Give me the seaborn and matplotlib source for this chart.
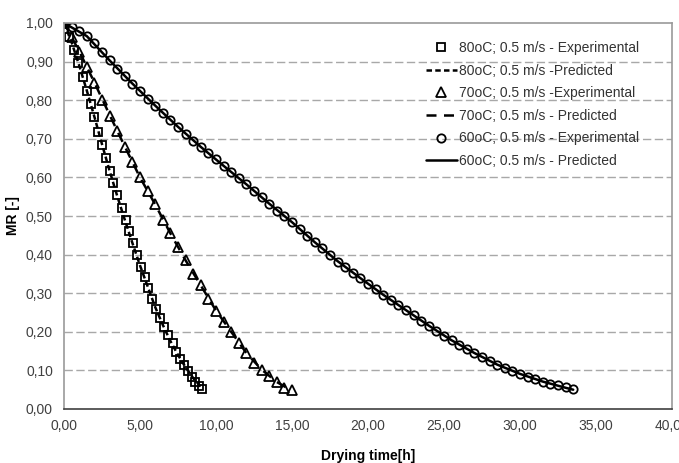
import matplotlib

matplotlib.use("Agg")

import matplotlib.pyplot as plt
import pandas as pd
import seaborn as sns

# 80 oC; 0.5 m/s
t80_exp = [0.0, 0.35, 0.65, 0.95, 1.25, 1.5, 1.75, 2.0, 2.25, 2.5, 2.75, 3.0, 3.25, 3.5,
           3.8, 4.05, 4.3, 4.55, 4.8, 5.05, 5.3, 5.55, 5.8, 6.05, 6.3, 6.55, 6.85, 7.15,
           7.4, 7.65, 7.9, 8.15, 8.4, 8.65, 8.9, 9.1]
mr80_exp = [1.0, 0.965, 0.93, 0.896, 0.861, 0.824, 0.79, 0.757, 0.718, 0.684, 0.65, 0.617,
            0.585, 0.554, 0.521, 0.49, 0.46, 0.43, 0.40, 0.368, 0.342, 0.313, 0.285, 0.259,
            0.236, 0.212, 0.192, 0.171, 0.148, 0.13, 0.114, 0.098, 0.083, 0.07, 0.06, 0.052]
t80_pred = [0.0, 0.5, 1.0, 1.5, 2.0, 2.5, 3.0, 3.5, 4.0, 4.5, 5.0, 5.5, 6.0, 6.5, 7.0, 7.5,
            8.0, 8.5, 9.0]
mr80_pred = [1.0, 0.95, 0.89, 0.825, 0.757, 0.686, 0.617, 0.552, 0.49, 0.43, 0.372, 0.318,
             0.264, 0.218, 0.176, 0.14, 0.108, 0.08, 0.058]

# 70 oC; 0.5 m/s
t70_exp = [0.0, 0.5, 1.0, 1.5, 2.0, 2.5, 3.0, 3.5, 4.0, 4.5, 5.0, 5.5, 6.0, 6.5, 7.0, 7.5,
           8.0, 8.5, 9.0, 9.5, 10.0, 10.5, 11.0, 11.5, 12.0, 12.5, 13.0, 13.5, 14.0, 14.5, 15.0]
mr70_exp = [1.0, 0.965, 0.925, 0.886, 0.845, 0.80, 0.76, 0.72, 0.68, 0.64, 0.60, 0.565, 0.53,
            0.49, 0.455, 0.42, 0.385, 0.35, 0.32, 0.285, 0.255, 0.225, 0.20, 0.17, 0.145,
            0.12, 0.10, 0.085, 0.07, 0.055, 0.048]
t70_pred = [0.0, 1.0, 2.0, 3.0, 4.0, 5.0, 6.0, 7.0, 8.0, 9.0, 10.0, 11.0, 12.0, 13.0, 14.0, 15.0]
mr70_pred = [1.0, 0.927, 0.846, 0.762, 0.68, 0.60, 0.53, 0.455, 0.385, 0.32, 0.255, 0.20,
             0.145, 0.102, 0.07, 0.047]

# 60 oC; 0.5 m/s
t60_exp = [0.0, 0.5, 1.0, 1.5, 2.0, 2.5, 3.0, 3.5, 4.0, 4.5, 5.0, 5.5, 6.0, 6.5, 7.0, 7.5,
           8.0, 8.5, 9.0, 9.5, 10.0, 10.5, 11.0, 11.5, 12.0, 12.5, 13.0, 13.5, 14.0, 14.5,
           15.0, 15.5, 16.0, 16.5, 17.0, 17.5, 18.0, 18.5, 19.0, 19.5, 20.0, 20.5, 21.0,
           21.5, 22.0, 22.5, 23.0, 23.5, 24.0, 24.5, 25.0, 25.5, 26.0, 26.5, 27.0, 27.5,
           28.0, 28.5, 29.0, 29.5, 30.0, 30.5, 31.0, 31.5, 32.0, 32.5, 33.0, 33.5]
mr60_exp = [1.0, 0.99, 0.98, 0.966, 0.948, 0.925, 0.903, 0.882, 0.862, 0.843, 0.823, 0.804,
            0.786, 0.768, 0.749, 0.731, 0.713, 0.695, 0.679, 0.663, 0.647, 0.63, 0.614,
            0.599, 0.582, 0.565, 0.549, 0.53, 0.514, 0.5, 0.484, 0.467, 0.448, 0.432, 0.416,
            0.399, 0.382, 0.368, 0.353, 0.34, 0.324, 0.31, 0.295, 0.283, 0.27, 0.257, 0.243,
            0.229, 0.215, 0.201, 0.189, 0.178, 0.165, 0.155, 0.145, 0.135, 0.124, 0.115,
            0.107, 0.099, 0.091, 0.084, 0.078, 0.071, 0.066, 0.061, 0.056, 0.052]
t60_pred = [0.0, 1.5, 3.0, 4.5, 6.0, 7.5, 9.0, 10.5, 12.0, 13.5, 15.0, 16.5, 18.0, 19.5, 21.0,
            22.5, 24.0, 25.5, 27.0, 28.5, 30.0, 31.5, 33.0, 33.5]
mr60_pred = [1.0, 0.966, 0.903, 0.843, 0.786, 0.731, 0.679, 0.63, 0.582, 0.532, 0.484, 0.432,
             0.383, 0.339, 0.296, 0.256, 0.216, 0.178, 0.145, 0.115, 0.091, 0.071, 0.055, 0.05]

x_ticks = [0, 5, 10, 15, 20, 25, 30, 35, 40]
y_ticks = [0.0, 0.1, 0.2, 0.3, 0.4, 0.5, 0.6, 0.7, 0.8, 0.9, 1.0]

sns.set_theme(style="white")
plt.rcParams["font.family"] = ["Liberation Sans", "DejaVu Sans"]

fig = plt.figure(figsize=(6.79, 4.63), dpi=100)
ax = fig.add_axes([64 / 679, 54 / 463, 608 / 679, 386 / 463])

for y in y_ticks[1:-1]:
    ax.axhline(y, color="#a8a8a8", lw=1.0, dashes=(6, 2.5), zorder=0)


def exp_series(t, mr, marker, label, ms):
    df = pd.DataFrame({"t": t, "mr": mr})
    sns.lineplot(data=df, x="t", y="mr", estimator=None, sort=False, ax=ax,
                 marker=marker, linestyle="none", markersize=ms, markerfacecolor="none",
                 markeredgecolor="black", markeredgewidth=1.3, color="black", label=label)


def pred_series(t, mr, dashes, label):
    df = pd.DataFrame({"t": t, "mr": mr})
    line_kw = {"dashes": dashes} if dashes else {"linestyle": "-"}
    sns.lineplot(data=df, x="t", y="mr", estimator=None, sort=False, ax=ax,
                 color="black", lw=1.8, label=label, **line_kw)


exp_series(t80_exp, mr80_exp, "s", "80oC; 0.5 m/s - Experimental", 6)
pred_series(t80_pred, mr80_pred, (2.2, 1.3), "80oC; 0.5 m/s -Predicted")
exp_series(t70_exp, mr70_exp, "^", "70oC; 0.5 m/s -Experimental", 6.5)
pred_series(t70_pred, mr70_pred, (4, 3), "70oC; 0.5 m/s - Predicted")
exp_series(t60_exp, mr60_exp, "o", "60oC; 0.5 m/s - Experimental", 6)
pred_series(t60_pred, mr60_pred, None, "60oC; 0.5 m/s - Predicted")

ax.set_xlim(0, 40)
ax.set_ylim(0, 1.0)
ax.set_xticks(x_ticks)
ax.set_yticks(y_ticks)
ax.set_xticklabels([f"{v:.2f}".replace(".", ",") for v in x_ticks])
ax.set_yticklabels([f"{v:.2f}".replace(".", ",") for v in y_ticks])
ax.tick_params(axis="both", length=0, labelsize=10, labelcolor="#404040")
ax.tick_params(axis="x", pad=7)
ax.tick_params(axis="y", pad=8)

for side in ["top", "right", "left"]:
    ax.spines[side].set_color("#9a9a9a")
    ax.spines[side].set_linewidth(1.2)
ax.spines["bottom"].set_color("#404040")
ax.spines["bottom"].set_linewidth(1.2)

ax.set_xlabel("Drying time[h]", fontsize=10, fontweight="bold", labelpad=12, color="black")
ax.set_ylabel("MR [-]", fontsize=10, fontweight="bold", labelpad=4, color="black")

leg = ax.legend(loc="upper left", bbox_to_anchor=(419 / 679, 1 - 34 / 463),
                bbox_transform=fig.transFigure, frameon=False, fontsize=10,
                handlelength=2.2, handletextpad=0.15, labelspacing=0.62, borderpad=0)
for txt in leg.get_texts():
    txt.set_color("#333333")

fig.savefig("out.png", dpi=100, facecolor="white")
